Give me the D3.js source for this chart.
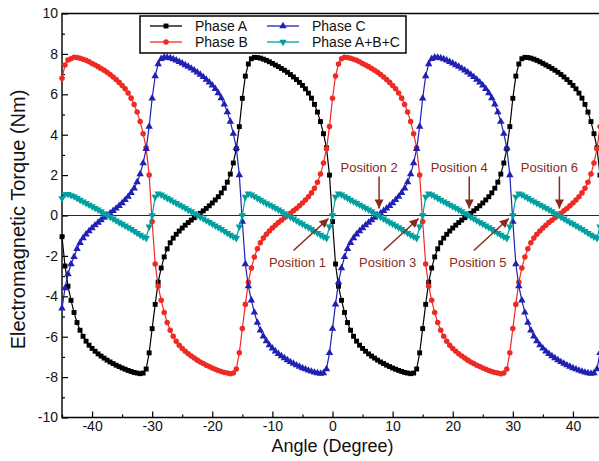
<!DOCTYPE html>
<html>
<head>
<meta charset="utf-8">
<script src="https://cdn.jsdelivr.net/npm/d3@7"></script>
<style>
  html, body { margin: 0; padding: 0; background: #fff; }
  svg { display: block; font-family: "Liberation Sans", Arial, sans-serif; }
</style>
</head>
<body>
<svg id="chart" width="599" height="461"></svg>
<script>
// ---------------- DATA ----------------
// Angle grid: -45 .. 45 degrees, every 0.5 degree (181 samples)
const angles = d3.range(-45, 45.001, 0.5);

const xTicks = [-40, -30, -20, -10, 0, 10, 20, 30, 40];
const xMinorTicks = [-45, -35, -25, -15, -5, 5, 15, 25, 35];
const yTicks = [-10, -8, -6, -4, -2, 0, 2, 4, 6, 8, 10];
const yMinorTicks = [-9, -7, -5, -3, -1, 1, 3, 5, 7, 9];

const seriesNames = ["Phase A", "Phase B", "Phase C", "Phase A+B+C"];

const phaseA = [
  -1.05, -2.5, -3.5, -4.2, -4.8, -5.3, -5.68, -5.98, -6.22, -6.42,
  -6.58, -6.72, -6.85, -6.96, -7.06, -7.16, -7.25, -7.33, -7.41, -7.48,
  -7.55, -7.61, -7.67, -7.72, -7.77, -7.8, -7.83, -7.8, -7.6, -6.8,
  -5.6, -4.4, -3.3, -2.6, -2.05, -1.65, -1.35, -1.12, -0.93, -0.77,
  -0.62, -0.48, -0.35, -0.23, -0.11, 0, 0.11, 0.23, 0.35, 0.48,
  0.62, 0.77, 0.93, 1.12, 1.35, 1.65, 2.05, 2.6, 3.3, 4.4,
  5.8, 6.9, 7.5, 7.76, 7.83, 7.82, 7.79, 7.74, 7.68, 7.61,
  7.53, 7.45, 7.37, 7.28, 7.19, 7.09, 6.98, 6.86, 6.73, 6.59,
  6.44, 6.27, 6.06, 5.81, 5.5, 5.12, 4.65, 4.05, 3.35, 2.0,
  -0.3, -2.4, -3.5, -4.2, -4.8, -5.3, -5.68, -5.98, -6.22, -6.42,
  -6.58, -6.72, -6.85, -6.96, -7.06, -7.16, -7.25, -7.33, -7.41, -7.48,
  -7.55, -7.61, -7.67, -7.72, -7.77, -7.8, -7.83, -7.8, -7.6, -6.8,
  -5.6, -4.4, -3.3, -2.6, -2.05, -1.65, -1.35, -1.12, -0.93, -0.77,
  -0.62, -0.48, -0.35, -0.23, -0.11, 0, 0.11, 0.23, 0.35, 0.48,
  0.62, 0.77, 0.93, 1.12, 1.35, 1.65, 2.05, 2.6, 3.3, 4.4,
  5.8, 6.9, 7.5, 7.76, 7.83, 7.82, 7.79, 7.74, 7.68, 7.61,
  7.53, 7.45, 7.37, 7.28, 7.19, 7.09, 6.98, 6.86, 6.73, 6.59,
  6.44, 6.27, 6.06, 5.81, 5.5, 5.12, 4.65, 4.05, 3.35, 2.0,
  -0.3
];

const phaseB = [
  6.8, 7.45, 7.7, 7.76, 7.83, 7.82, 7.79, 7.74, 7.68, 7.61,
  7.53, 7.45, 7.37, 7.28, 7.19, 7.09, 6.98, 6.86, 6.73, 6.59,
  6.44, 6.27, 6.06, 5.81, 5.5, 5.12, 4.65, 4.05, 3.35, 2.0,
  -0.3, -2.4, -3.5, -4.2, -4.8, -5.3, -5.68, -5.98, -6.22, -6.42,
  -6.58, -6.72, -6.85, -6.96, -7.06, -7.16, -7.25, -7.33, -7.41, -7.48,
  -7.55, -7.61, -7.67, -7.72, -7.77, -7.8, -7.83, -7.8, -7.6, -6.8,
  -5.6, -4.4, -3.3, -2.6, -2.05, -1.65, -1.35, -1.12, -0.93, -0.77,
  -0.62, -0.48, -0.35, -0.23, -0.11, 0, 0.11, 0.23, 0.35, 0.48,
  0.62, 0.77, 0.93, 1.12, 1.35, 1.65, 2.05, 2.6, 3.3, 4.4,
  5.8, 6.9, 7.5, 7.76, 7.83, 7.82, 7.79, 7.74, 7.68, 7.61,
  7.53, 7.45, 7.37, 7.28, 7.19, 7.09, 6.98, 6.86, 6.73, 6.59,
  6.44, 6.27, 6.06, 5.81, 5.5, 5.12, 4.65, 4.05, 3.35, 2.0,
  -0.3, -2.4, -3.5, -4.2, -4.8, -5.3, -5.68, -5.98, -6.22, -6.42,
  -6.58, -6.72, -6.85, -6.96, -7.06, -7.16, -7.25, -7.33, -7.41, -7.48,
  -7.55, -7.61, -7.67, -7.72, -7.77, -7.8, -7.83, -7.8, -7.6, -6.8,
  -5.6, -4.4, -3.3, -2.6, -2.05, -1.65, -1.35, -1.12, -0.93, -0.77,
  -0.62, -0.48, -0.35, -0.23, -0.11, 0, 0.11, 0.23, 0.35, 0.48,
  0.62, 0.77, 0.93, 1.12, 1.35, 1.65, 2.05, 2.6, 3.3, 4.4,
  5.8
];

const phaseC = [
  -4.6, -3.6, -2.9, -2.4, -2.05, -1.65, -1.35, -1.12, -0.93, -0.77,
  -0.62, -0.48, -0.35, -0.23, -0.11, 0, 0.11, 0.23, 0.35, 0.48,
  0.62, 0.77, 0.93, 1.12, 1.35, 1.65, 2.05, 2.6, 3.3, 4.4,
  5.8, 6.9, 7.5, 7.76, 7.83, 7.82, 7.79, 7.74, 7.68, 7.61,
  7.53, 7.45, 7.37, 7.28, 7.19, 7.09, 6.98, 6.86, 6.73, 6.59,
  6.44, 6.27, 6.06, 5.81, 5.5, 5.12, 4.65, 4.05, 3.35, 2.0,
  -0.3, -2.4, -3.5, -4.2, -4.8, -5.3, -5.68, -5.98, -6.22, -6.42,
  -6.58, -6.72, -6.85, -6.96, -7.06, -7.16, -7.25, -7.33, -7.41, -7.48,
  -7.55, -7.61, -7.67, -7.72, -7.77, -7.8, -7.83, -7.8, -7.6, -6.8,
  -5.6, -4.4, -3.3, -2.6, -2.05, -1.65, -1.35, -1.12, -0.93, -0.77,
  -0.62, -0.48, -0.35, -0.23, -0.11, 0, 0.11, 0.23, 0.35, 0.48,
  0.62, 0.77, 0.93, 1.12, 1.35, 1.65, 2.05, 2.6, 3.3, 4.4,
  5.8, 6.9, 7.5, 7.76, 7.83, 7.82, 7.79, 7.74, 7.68, 7.61,
  7.53, 7.45, 7.37, 7.28, 7.19, 7.09, 6.98, 6.86, 6.73, 6.59,
  6.44, 6.27, 6.06, 5.81, 5.5, 5.12, 4.65, 4.05, 3.35, 2.0,
  -0.3, -2.4, -3.5, -4.2, -4.8, -5.3, -5.68, -5.98, -6.22, -6.42,
  -6.58, -6.72, -6.85, -6.96, -7.06, -7.16, -7.25, -7.33, -7.41, -7.48,
  -7.55, -7.61, -7.67, -7.72, -7.77, -7.8, -7.83, -7.8, -7.6, -6.8,
  -5.6
];

const phaseSum = [
  0.85, 1.05, 1.06, 1.0, 0.94, 0.86, 0.77, 0.69, 0.61, 0.53,
  0.45, 0.37, 0.29, 0.2, 0.11, 0.02, -0.07, -0.16, -0.25, -0.34,
  -0.42, -0.5, -0.59, -0.68, -0.77, -0.87, -0.96, -1.05, -1.12, -0.55,
  0, 0.92, 1.08, 1.03, 0.94, 0.86, 0.78, 0.69, 0.61, 0.53,
  0.45, 0.37, 0.28, 0.2, 0.11, 0.02, -0.07, -0.16, -0.25, -0.33,
  -0.42, -0.5, -0.59, -0.68, -0.77, -0.87, -0.96, -1.05, -1.12, -0.55,
  0, 0.92, 1.08, 1.03, 0.95, 0.86, 0.77, 0.69, 0.6, 0.53,
  0.45, 0.37, 0.29, 0.2, 0.11, 0.02, -0.07, -0.16, -0.25, -0.34,
  -0.42, -0.51, -0.59, -0.68, -0.77, -0.87, -0.96, -1.05, -1.12, -0.55,
  0, 0.92, 1.08, 1.03, 0.94, 0.86, 0.77, 0.69, 0.61, 0.53,
  0.45, 0.37, 0.29, 0.2, 0.11, 0.02, -0.07, -0.16, -0.25, -0.34,
  -0.42, -0.5, -0.59, -0.68, -0.77, -0.87, -0.96, -1.05, -1.12, -0.55,
  0, 0.92, 1.08, 1.03, 0.94, 0.86, 0.77, 0.69, 0.61, 0.53,
  0.45, 0.37, 0.29, 0.2, 0.11, 0.02, -0.07, -0.16, -0.25, -0.34,
  -0.42, -0.5, -0.59, -0.68, -0.77, -0.87, -0.96, -1.05, -1.12, -0.55,
  0, 0.92, 1.08, 1.03, 0.94, 0.86, 0.77, 0.69, 0.61, 0.53,
  0.45, 0.37, 0.29, 0.2, 0.11, 0.02, -0.07, -0.16, -0.25, -0.34,
  -0.42, -0.5, -0.59, -0.68, -0.77, -0.87, -0.96, -1.05, -1.12, -0.55,
  0
];

// Annotated positions (angle in degrees)
const positionLabels = ["Position 1", "Position 2", "Position 3", "Position 4", "Position 5", "Position 6"];
const positionAngles = [0, 7.5, 15, 22.5, 30, 37.5];

// ---------------- STYLE / LAYOUT ----------------
const plot = { left: 62, right: 603, top: 13.5, bottom: 417.5 };
const colors = ["#000000", "#ee2a24", "#2020b4", "#00a0a0"];
const annotColor = "#8a2a1c";

const svg = d3.select("#chart");

const x = d3.scaleLinear().domain([-45, 45]).range([plot.left, plot.right]);
const y = d3.scaleLinear().domain([-10, 10]).range([plot.bottom, plot.top]);

// zero line
svg.append("line")
  .attr("x1", x(-45)).attr("x2", x(45))
  .attr("y1", y(0)).attr("y2", y(0))
  .attr("stroke", "#3a2222").attr("stroke-width", 1.1);

// axes (ticks inward)
const fmt = d => String(d);
const gx = svg.append("g").attr("transform", `translate(0,${plot.bottom})`)
  .call(d3.axisBottom(x).tickValues(xTicks).tickSize(-6).tickPadding(4).tickFormat(fmt));
const gxm = svg.append("g").attr("transform", `translate(0,${plot.bottom})`)
  .call(d3.axisBottom(x).tickValues(xMinorTicks).tickSize(-3).tickFormat(""));
const gy = svg.append("g").attr("transform", `translate(${plot.left},0)`)
  .call(d3.axisLeft(y).tickValues(yTicks).tickSize(-6).tickPadding(4).tickFormat(fmt));
const gym = svg.append("g").attr("transform", `translate(${plot.left},0)`)
  .call(d3.axisLeft(y).tickValues(yMinorTicks).tickSize(-3).tickFormat(""));

[gx, gxm, gy, gym].forEach(g => {
  g.select(".domain").remove();
  g.selectAll(".tick line").attr("stroke", "#000").attr("stroke-width", 1.2);
  g.selectAll(".tick text")
    .attr("fill", "#111")
    .style("font-family", '"Liberation Sans", Arial, sans-serif')
    .style("font-size", "14px");
});

// frame
svg.append("path")
  .attr("d", `M${plot.right},${plot.top}H${plot.left}V${plot.bottom}H${plot.right}`)
  .attr("fill", "none").attr("stroke", "#000").attr("stroke-width", 1.4);

// axis titles
svg.append("text")
  .attr("x", x(0)).attr("y", 452)
  .attr("text-anchor", "middle")
  .style("font-size", "18px").attr("fill", "#111")
  .text("Angle (Degree)");
svg.append("text")
  .attr("transform", `translate(25,${(plot.top + plot.bottom) / 2 + 4}) rotate(-90)`)
  .attr("text-anchor", "middle")
  .style("font-size", "20px").attr("fill", "#111")
  .text("Electromagnetic Torque (Nm)");

// series
const seriesValues = [phaseA, phaseB, phaseC, phaseSum];
const symbols = [
  d3.symbol().type(d3.symbolSquare).size(24),
  d3.symbol().type(d3.symbolCircle).size(24),
  d3.symbol().type(d3.symbolTriangle).size(24),
  d3.symbol().type(d3.symbolTriangle).size(24)
];
const rotations = [0, 0, 0, 180];

const line = d3.line().x(d => x(d[0])).y(d => y(d[1]));

seriesValues.forEach((vals, si) => {
  const pts = angles.map((a, i) => [a, vals[i]]);
  const g = svg.append("g");
  g.append("path").datum(pts)
    .attr("d", line)
    .attr("fill", "none")
    .attr("stroke", colors[si])
    .attr("stroke-width", 1.2);
  g.selectAll("path.m").data(pts).join("path")
    .attr("class", "m")
    .attr("d", symbols[si])
    .attr("transform", d => `translate(${x(d[0])},${y(d[1])}) rotate(${rotations[si]})`)
    .attr("fill", colors[si]);
});

// annotations
const defs = svg.append("defs");
defs.append("marker")
  .attr("id", "ah").attr("viewBox", "0 0 10 10")
  .attr("refX", 10).attr("refY", 5)
  .attr("markerWidth", 10).attr("markerHeight", 9)
  .attr("markerUnits", "userSpaceOnUse")
  .attr("orient", "auto")
  .append("path").attr("d", "M0,0L10,5L0,10Z").attr("fill", annotColor);

const ann = svg.append("g");
positionAngles.forEach((a, i) => {
  const upper = i % 2 === 1;
  const px = x(a);
  if (upper) {
    const ax = px + 1.5;
    ann.append("line")
      .attr("x1", ax).attr("y1", y(0) - 39)
      .attr("x2", ax).attr("y2", y(0) - 7)
      .attr("stroke", annotColor).attr("stroke-width", 1.5)
      .attr("marker-end", "url(#ah)");
    ann.append("text")
      .attr("x", ax - 10).attr("y", y(0) - 44)
      .attr("text-anchor", "middle")
      .style("font-size", "13px").attr("fill", annotColor)
      .text(positionLabels[i]);
  } else {
    const tx = px - 4, ty = y(0) + 3;
    ann.append("line")
      .attr("x1", tx - 35).attr("y1", ty + 32)
      .attr("x2", tx).attr("y2", ty)
      .attr("stroke", annotColor).attr("stroke-width", 1.5)
      .attr("marker-end", "url(#ah)");
    ann.append("text")
      .attr("x", tx - 31).attr("y", y(0) + 51)
      .attr("text-anchor", "middle")
      .style("font-size", "13px").attr("fill", annotColor)
      .text(positionLabels[i]);
  }
});

// legend
const lg = svg.append("g");
lg.append("rect")
  .attr("x", 140).attr("y", 16).attr("width", 266).attr("height", 37)
  .attr("fill", "#fff").attr("stroke", "#000").attr("stroke-width", 1.5);
const legendPos = [[150, 26], [150, 42], [267, 26], [267, 42]];
seriesNames.forEach((name, si) => {
  const [lx, ly] = legendPos[si];
  lg.append("line").attr("x1", lx).attr("x2", lx + 32).attr("y1", ly).attr("y2", ly)
    .attr("stroke", colors[si]).attr("stroke-width", 1.3);
  lg.append("path").attr("d", symbols[si])
    .attr("transform", `translate(${lx + 16},${ly}) rotate(${rotations[si]})`)
    .attr("fill", colors[si]);
  lg.append("text").attr("x", lx + 45).attr("y", ly + 5)
    .style("font-size", "14px").attr("fill", "#111")
    .text(name);
});
</script>
</body>
</html>
